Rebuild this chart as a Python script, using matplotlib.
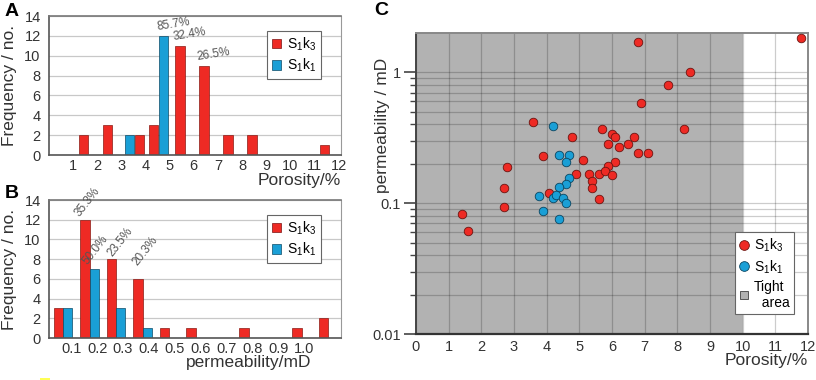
import numpy as np
import matplotlib
matplotlib.use("Agg")
import matplotlib.pyplot as plt
from matplotlib.patches import Patch, Rectangle
from matplotlib.lines import Line2D
from matplotlib.ticker import FixedLocator, NullFormatter

plt.rcParams["font.family"] = ["Liberation Sans", "DejaVu Sans"]
plt.rcParams["mathtext.fontset"] = "custom"
plt.rcParams["mathtext.rm"] = "Liberation Sans"

# ============================================================
# DATA
# ============================================================

# panel A: porosity histogram (bin n covers n..n+1 %)
por_bins = np.arange(1, 12)
por_k3 = [2, 3, 2, 3, 11, 9, 2, 2, 0, 0, 1]
por_k1 = [0, 0, 2, 12, 0, 0, 0, 0, 0, 0, 0]
por_ticks = list(range(1, 13))
por_notes = [("85.7%", 4, "k1"), ("32.4%", 5, "k3"), ("26.5%", 6, "k3")]

# panel B: permeability histogram (bin k covers k*0.1..(k+1)*0.1 mD)
perm_k3 = [3, 12, 8, 6, 1, 1, 0, 1, 0, 1, 2]
perm_k1 = [3, 7, 3, 1, 0, 0, 0, 0, 0, 0, 0]
perm_ticklabels = ["0.1", "0.2", "0.3", "0.4", "0.5", "0.6", "0.7", "0.8", "0.9", "1.0"]
perm_notes = [("35.3%", 1, "k3"), ("50.0%", 1, "k1"), ("23.5%", 2, "k3"), ("20.3%", 3, "k3")]

# panel C: porosity (%) vs permeability (mD)
k3_por = [6.81, 11.79, 8.39, 7.70, 6.89, 3.58, 8.19, 5.69, 4.79, 6.00, 6.10, 6.68,
          5.89, 6.20, 6.49, 6.80, 7.10, 3.90, 5.10, 6.09, 5.89, 2.79, 4.89, 5.29,
          5.60, 5.79, 6.00, 5.39, 5.39, 2.68, 4.08, 5.60, 1.40, 1.59, 2.68]
k3_perm = [1.70, 1.83, 1.00, 0.80, 0.58, 0.415, 0.369, 0.372, 0.321, 0.340, 0.321, 0.321,
           0.284, 0.269, 0.285, 0.244, 0.244, 0.231, 0.213, 0.205, 0.192, 0.188, 0.167, 0.167,
           0.168, 0.175, 0.164, 0.148, 0.130, 0.131, 0.120, 0.107, 0.083, 0.0615, 0.094]
k1_por = [4.19, 4.38, 4.69, 4.59, 4.69, 4.59, 4.38, 3.78, 4.19, 4.29, 4.49, 4.59, 3.90, 4.38]
k1_perm = [0.389, 0.232, 0.235, 0.207, 0.156, 0.140, 0.134, 0.113, 0.110, 0.115, 0.110,
           0.0995, 0.0865, 0.076]

RED = "#ee2a24"
BLUE = "#1a9fd6"
GREY_TXT = "#333333"
LBL_K3 = r"$\mathrm{S_1k_3}$"
LBL_K1 = r"$\mathrm{S_1k_1}$"

W, H = 816, 380


def px_axes(fig, left, top, right, bottom):
    return fig.add_axes([left / W, 1 - bottom / H, (right - left) / W, (bottom - top) / H])


def style_hist(ax):
    ax.set_ylim(0, 14)
    ax.set_yticks(range(0, 15, 2))
    ax.yaxis.grid(True, color="#c8c8c8", lw=0.9)
    ax.set_axisbelow(True)
    ax.tick_params(axis="y", length=0, labelsize=10.5, colors=GREY_TXT, pad=6)
    ax.tick_params(axis="x", length=0, labelsize=10.5, colors=GREY_TXT, pad=3)
    for s in ("left", "bottom"):
        ax.spines[s].set_color("#555555")
        ax.spines[s].set_linewidth(1.2)
    ax.spines["top"].set_color("#777777")
    ax.spines["top"].set_linewidth(1.2)
    ax.spines["right"].set_color("#999999")
    ax.set_ylabel("Frequency / no.", fontsize=12.5, color=GREY_TXT)
    ax.yaxis.set_label_coords(-0.11, 0.5)


def hist_legend(ax, anchor):
    handles = [Patch(facecolor=RED, edgecolor="#7a1010", lw=0.5),
               Patch(facecolor=BLUE, edgecolor="#0c4a66", lw=0.5)]
    leg = ax.legend(handles, [LBL_K3, LBL_K1], loc="upper right", bbox_to_anchor=anchor,
                    fontsize=10, handlelength=0.7, handleheight=0.7, handletextpad=0.4,
                    borderpad=0.35, labelspacing=0.3, fancybox=False, framealpha=1)
    leg.get_frame().set_edgecolor("#666666")
    leg.get_frame().set_linewidth(0.8)


fig = plt.figure(figsize=(W / 100, H / 100), dpi=100)

# ---------------- A ----------------
axA = px_axes(fig, 49, 16, 341, 155)
style_hist(axA)
bw = 0.39
side = {3: -1, 4: 1}  # which side the blue bar sits in shared bins
red_x, blue_x = [], []
for n in por_bins:
    if n in side:
        c = n + 0.54
        blue_x.append(c + side[n] * 0.2)
        red_x.append(c - side[n] * 0.2)
    else:
        blue_x.append(n + 0.42)
        red_x.append(n + 0.42)
axA.bar(red_x, por_k3, width=bw, color=RED, edgecolor="#8a1a14", lw=0.5)
axA.bar(blue_x, por_k1, width=bw, color=BLUE, edgecolor="#0c4a66", lw=0.5)
axA.set_xlim(0, 12.1)
axA.set_xticks(por_ticks)
for txt, n, ser in por_notes:
    i = list(por_bins).index(n)
    x = (blue_x if ser == "k1" else red_x)[i] - bw / 2
    y = (por_k1 if ser == "k1" else por_k3)[i]
    axA.text(x - 0.05, y + 0.25, txt, fontsize=8.5, color="#555555", rotation=9,
             rotation_mode="anchor", ha="left", va="bottom")
hist_legend(axA, (0.955, 0.945))
fig.text(341 / W, 1 - 185 / H, "Porosity/%", fontsize=12.5, color=GREY_TXT,
         ha="right", va="baseline")

# ---------------- B ----------------
axB = px_axes(fig, 49, 200, 341, 338)
style_hist(axB)
cats = np.arange(len(perm_k3)) * 1.025 + 0.68
bwB = 0.36
axB.bar(cats - 0.18, perm_k3, width=bwB, color=RED, edgecolor="#8a1a14", lw=0.5)
axB.bar(cats + 0.18, perm_k1, width=bwB, color=BLUE, edgecolor="#0c4a66", lw=0.5)
axB.set_xlim(0.14, 11.42)
axB.set_xticks(range(1, 11))
axB.set_xticklabels(perm_ticklabels)
note_shift = [(0.05, 0.1), (0.0, 0.2), (0.3, 0.0), (0.25, 1.1)]
for (txt, k, ser), (dx, dy) in zip(perm_notes, note_shift):
    if ser == "k1":
        x, y = cats[k], perm_k1[k]
    else:
        x, y = cats[k] - 2 * 0.18, perm_k3[k]
    axB.text(x + dx, y + dy, txt, fontsize=8.5, color="#555555", rotation=52,
             rotation_mode="anchor", ha="left", va="bottom")
hist_legend(axB, (0.955, 0.945))
fig.text(249 / W, 1 - 367 / H, "permeability/mD", fontsize=12.5, color=GREY_TXT,
         ha="center", va="baseline")

# ---------------- C ----------------
axC = px_axes(fig, 416, 33, 808, 334)
axC.set_yscale("log")
axC.set_xlim(0, 12)
axC.set_ylim(0.01, 2)
axC.axvspan(0, 10, color="#b2b2b2", lw=0, zorder=0)
axC.set_xticks(range(0, 13))
axC.yaxis.set_major_locator(FixedLocator([0.01, 0.1, 1]))
axC.set_yticklabels(["0.01", "0.1", "1"])
minors = [m * 10.0 ** e for e in (-2, -1, 0) for m in range(2, 10) if m * 10.0 ** e < 2]
axC.yaxis.set_minor_locator(FixedLocator(minors))
axC.yaxis.set_minor_formatter(NullFormatter())
axC.grid(True, which="both", axis="y", color="black", alpha=0.2, lw=0.9)
axC.grid(True, which="major", axis="x", color="black", alpha=0.2, lw=0.9)
axC.set_axisbelow(True)
axC.tick_params(axis="x", length=0, labelsize=10.5, colors=GREY_TXT, pad=4)
axC.tick_params(axis="y", which="major", length=9, width=1.2, color="#444444",
                labelsize=10.5, labelcolor=GREY_TXT, pad=2)
axC.tick_params(axis="y", which="minor", length=4.5, width=1.0, color="#444444")
for s in ("top", "right"):
    axC.spines[s].set_color("#888888")
    axC.spines[s].set_linewidth(1.4)
axC.spines["left"].set_color("#444444")
axC.spines["left"].set_linewidth(1.4)
axC.spines["bottom"].set_color("#333333")
axC.spines["bottom"].set_linewidth(1.6)

axC.scatter(k3_por, k3_perm, s=38, color=RED, edgecolor="#6b1410", lw=0.6, zorder=3)
axC.scatter(k1_por, k1_perm, s=38, color=BLUE, edgecolor="#0b4560", lw=0.6, zorder=3)
fig.text(382 / W, 1 - 125 / H, "permeability / mD", fontsize=12.5, color=GREY_TXT,
         rotation=90, ha="center", va="center")
fig.text(808 / W, 1 - 365 / H, "Porosity/%", fontsize=12.5, color=GREY_TXT,
         ha="right", va="baseline")

handles = [
    Line2D([], [], ls="", marker="o", ms=7, mfc=RED, mec="#6b1410", mew=0.6),
    Line2D([], [], ls="", marker="o", ms=7, mfc=BLUE, mec="#0b4560", mew=0.6),
    Line2D([], [], ls="", marker="s", ms=6, mfc="#b2b2b2", mec="#555555", mew=0.7),
]
leg = axC.legend(handles, [LBL_K3, LBL_K1, "Tight\n  area"], loc="lower right",
                 bbox_to_anchor=(0.982, 0.043), fontsize=10, handlelength=0.7,
                 handletextpad=0.4, borderpad=0.3, labelspacing=0.3,
                 fancybox=False, framealpha=1)
leg.get_frame().set_edgecolor("#666666")
leg.get_frame().set_linewidth(0.8)

# panel letters
fig.text(5 / W, 1 - 3 / H, "A", fontsize=14, weight="bold", ha="left", va="top")
fig.text(5 / W, 1 - 185 / H, "B", fontsize=14, weight="bold", ha="left", va="top")
fig.text(374 / W, 1 - 2 / H, "C", fontsize=14, weight="bold", ha="left", va="top")

# small yellow mark at the bottom-left corner of the source image
fig.patches.append(Rectangle((40 / W, 0), 10 / W, 2.5 / H, transform=fig.transFigure,
                             color="#ffff55", lw=0))

fig.savefig("out.png", dpi=100)
